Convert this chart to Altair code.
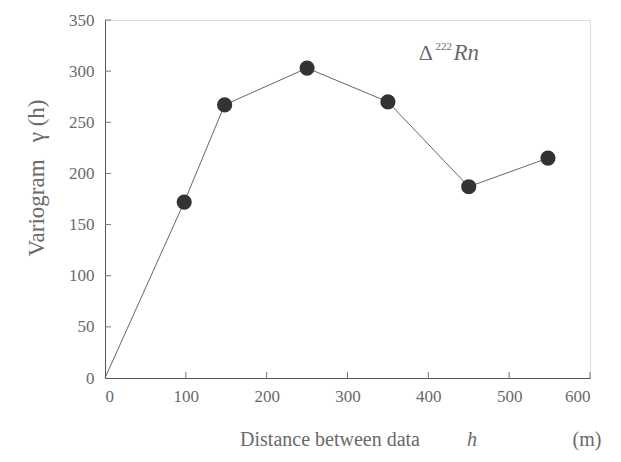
import altair as alt
import pandas as pd

h_vals = [0, 98, 148, 250, 350, 450, 548]
gamma_vals = [0, 172, 267, 303, 270, 187, 215]
x_ticks = [0, 100, 200, 300, 400, 500, 600]
y_ticks = [0, 50, 100, 150, 200, 250, 300, 350]

df = pd.DataFrame({"h": h_vals, "g": gamma_vals})
pts = df.iloc[1:]

W, H = 485, 358
FONT = "Liberation Serif"
GREY = "#6a6a6a"

xs = alt.Scale(domain=[0, 600], nice=False)
ys = alt.Scale(domain=[0, 350], nice=False)

line = alt.Chart(df).mark_line(color="#666666", strokeWidth=1).encode(
    x=alt.X("h:Q", scale=xs, axis=alt.Axis(values=x_ticks, title=None, grid=False, ticks=False,
                                           labelFont=FONT, labelFontSize=17, labelColor=GREY,
                                           domainColor="#555555", labelPadding=10)),
    y=alt.Y("g:Q", scale=ys, axis=alt.Axis(values=y_ticks, title=None, grid=False, ticks=False,
                                           labelFont=FONT, labelFontSize=17, labelColor=GREY,
                                           domainColor="#555555", labelPadding=11)),
)

points = alt.Chart(pts).mark_circle(color="#333333", opacity=1, size=230).encode(
    x=alt.X("h:Q", scale=xs), y=alt.Y("g:Q", scale=ys)
)

ytick_df = pd.DataFrame({"v": y_ticks[1:]})
yticks = alt.Chart(ytick_df).mark_rule(color="#777777").encode(
    y=alt.Y("v:Q", scale=ys), x=alt.value(0), x2=alt.value(6)
)
xtick_df = pd.DataFrame({"v": x_ticks[1:]})
xticks = alt.Chart(xtick_df).mark_rule(color="#777777").encode(
    x=alt.X("v:Q", scale=xs), y=alt.value(H), y2=alt.value(H - 6)
)

delta = alt.Chart(pd.DataFrame({"t": ["Δ"], "x": [388], "y": [318]})).mark_text(
    font=FONT, fontSize=22, color=GREY, align="left").encode(
    x=alt.X("x:Q", scale=xs), y=alt.Y("y:Q", scale=ys), text="t:N")
sup = alt.Chart(pd.DataFrame({"t": ["222"], "x": [409], "y": [324]})).mark_text(
    font=FONT, fontSize=11, color=GREY, align="left").encode(
    x=alt.X("x:Q", scale=xs), y=alt.Y("y:Q", scale=ys), text="t:N")
rn = alt.Chart(pd.DataFrame({"t": ["Rn"], "x": [431], "y": [318]})).mark_text(
    font=FONT, fontSize=23, fontStyle="italic", color=GREY, align="left").encode(
    x=alt.X("x:Q", scale=xs), y=alt.Y("y:Q", scale=ys), text="t:N")

NB = "\u00a0"
ytitle = alt.Chart(pd.DataFrame({"t": ["Variogram" + NB * 3 + "γ (h)"]})).mark_text(
    font=FONT, fontSize=23, color=GREY, angle=270).encode(
    x=alt.value(-68), y=alt.value(158), text="t:N")
xtitle = alt.Chart(pd.DataFrame({"t": ["Distance between data" + NB * 3]})).mark_text(
    font=FONT, fontSize=20, color=GREY).encode(
    x=alt.value(225), y=alt.value(62 + H), text="t:N")
hlab = alt.Chart(pd.DataFrame({"t": ["h"]})).mark_text(
    font=FONT, fontSize=20, fontStyle="italic", color=GREY).encode(
    x=alt.value(367), y=alt.value(62 + H), text="t:N")
unit = alt.Chart(pd.DataFrame({"t": ["(m)"]})).mark_text(
    font=FONT, fontSize=20, color=GREY).encode(
    x=alt.value(482), y=alt.value(62 + H), text="t:N")

chart = alt.layer(line, yticks, xticks, points, delta, sup, rn, ytitle, xtitle, hlab, unit).properties(
    width=W, height=H,
    autosize=alt.AutoSizeParams(type="none"),
    padding={"left": 97, "top": 12, "right": 20, "bottom": 76},
).configure_view(stroke=None).configure(background="white")

chart.save("out.html", embed_options={"renderer": "svg", "actions": False})
